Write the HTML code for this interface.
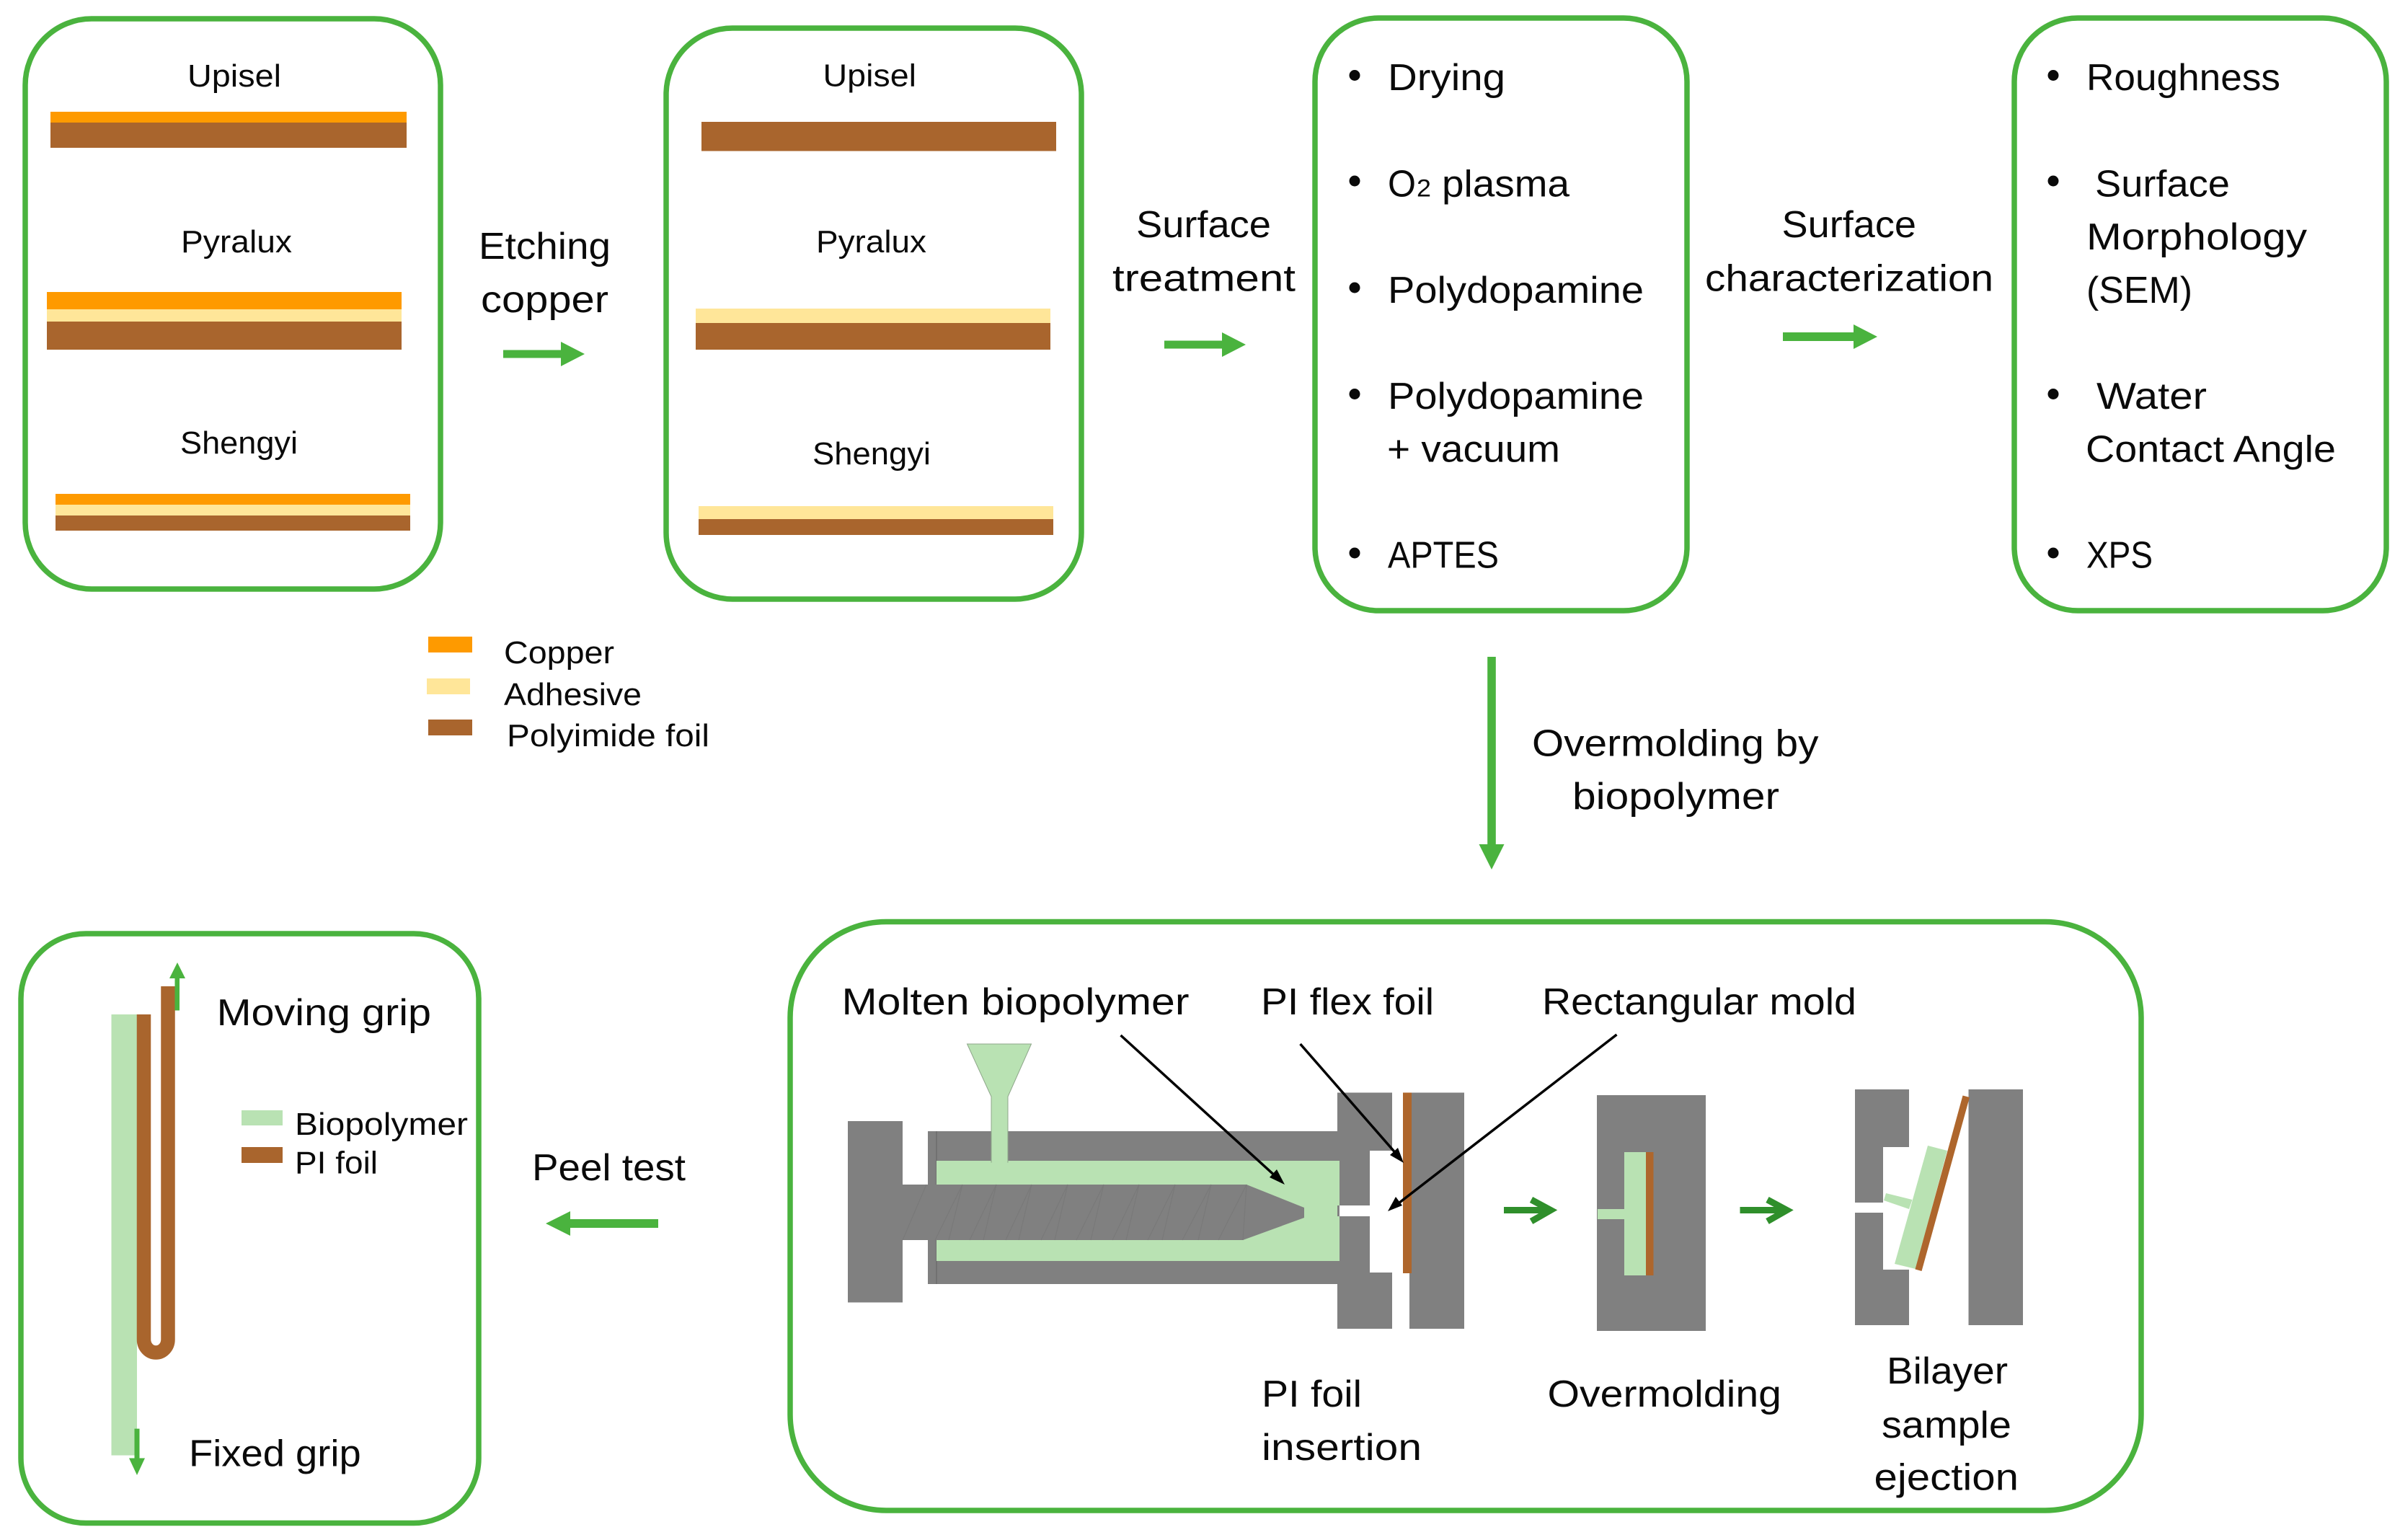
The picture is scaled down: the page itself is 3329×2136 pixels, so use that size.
<!DOCTYPE html>
<html>
<head>
<meta charset="utf-8">
<style>
html,body{margin:0;padding:0;background:#fff}
svg{display:block}
text{font-family:"Liberation Sans",sans-serif;fill:#0a0a0a}
.m{font-size:52px}
.s{font-size:44px}
</style>
</head>
<body>
<svg width="3329" height="2136" viewBox="0 0 3329 2136" xmlns="http://www.w3.org/2000/svg">
<rect width="3329" height="2136" fill="#fff"/>

<!-- Boxes -->
<g fill="none" stroke="#4ab33e" stroke-width="7.5">
<rect x="35" y="26" width="576" height="791" rx="92" ry="92"/>
<rect x="924" y="39" width="576" height="792" rx="92" ry="92"/>
<rect x="1824" y="25" width="516" height="822" rx="88" ry="88"/>
<rect x="2794" y="25" width="516" height="822" rx="88" ry="88"/>
<rect x="1096" y="1278.500" width="1874" height="816.500" rx="133" ry="133"/>
<rect x="29" y="1295" width="635" height="817.500" rx="90" ry="90"/>
</g>

<!-- Box 1 layers -->
<rect x="70" y="155" width="494" height="15" fill="#fe9a00"/>
<rect x="70" y="170" width="494" height="35" fill="#a9652d"/>
<rect x="65" y="405" width="492" height="24" fill="#fe9a00"/>
<rect x="65" y="429" width="492" height="17" fill="#ffe699"/>
<rect x="65" y="446" width="492" height="39" fill="#a9652d"/>
<rect x="77" y="685" width="492" height="15" fill="#fe9a00"/>
<rect x="77" y="700" width="492" height="15" fill="#ffe699"/>
<rect x="77" y="715" width="492" height="21" fill="#a9652d"/>
<text class="s" x="260" y="120" textLength="130" lengthAdjust="spacingAndGlyphs">Upisel</text>
<text class="s" x="251" y="350" textLength="154" lengthAdjust="spacingAndGlyphs">Pyralux</text>
<text class="s" x="250" y="629" textLength="163" lengthAdjust="spacingAndGlyphs">Shengyi</text>

<!-- Etching -->
<text class="m" x="664" y="359" textLength="183" lengthAdjust="spacingAndGlyphs">Etching</text>
<text class="m" x="667" y="433" textLength="177" lengthAdjust="spacingAndGlyphs">copper</text>
<polygon points="698,485.500 778,485.500 778,474 811,491 778,508 778,496.500 698,496.500" fill="#4ab33e"/>

<!-- Legend -->
<rect x="594" y="883" width="61" height="22" fill="#fe9a00"/>
<rect x="592" y="941" width="60" height="22" fill="#ffe699"/>
<rect x="594" y="998" width="61" height="22" fill="#a9652d"/>
<text class="s" x="699" y="920" textLength="153" lengthAdjust="spacingAndGlyphs">Copper</text>
<text class="s" x="699" y="978" textLength="191" lengthAdjust="spacingAndGlyphs">Adhesive</text>
<text class="s" x="703" y="1035" textLength="281" lengthAdjust="spacingAndGlyphs">Polyimide foil</text>

<!-- Box 2 layers -->
<rect x="973" y="169" width="492" height="40.500" fill="#a9652d"/>
<rect x="965" y="428" width="492" height="20" fill="#ffe699"/>
<rect x="965" y="448" width="492" height="37" fill="#a9652d"/>
<rect x="969" y="702" width="492" height="18" fill="#ffe699"/>
<rect x="969" y="720" width="492" height="22" fill="#a9652d"/>
<text class="s" x="1141.500" y="119.500" textLength="129.500" lengthAdjust="spacingAndGlyphs">Upisel</text>
<text class="s" x="1132" y="350" textLength="153" lengthAdjust="spacingAndGlyphs">Pyralux</text>
<text class="s" x="1127" y="644" textLength="164" lengthAdjust="spacingAndGlyphs">Shengyi</text>

<!-- Surface treatment -->
<text class="m" x="1576" y="329" textLength="187" lengthAdjust="spacingAndGlyphs">Surface</text>
<text class="m" x="1543" y="403.500" textLength="254" lengthAdjust="spacingAndGlyphs">treatment</text>
<polygon points="1615,472.500 1695,472.500 1695,461 1728,478 1695,495 1695,483.500 1615,483.500" fill="#4ab33e"/>

<!-- Box 3 list -->
<g fill="#0a0a0a">
<circle cx="1879" cy="104.500" r="7.500"/><circle cx="1879" cy="251" r="7.500"/><circle cx="1879" cy="399" r="7.500"/><circle cx="1879" cy="546.500" r="7.500"/><circle cx="1879" cy="767" r="7.500"/>
<circle cx="2848" cy="104.500" r="7.500"/><circle cx="2848" cy="251" r="7.500"/><circle cx="2848" cy="546.500" r="7.500"/><circle cx="2848" cy="767" r="7.500"/>
</g>
<text class="m" x="1925" y="125" textLength="163" lengthAdjust="spacingAndGlyphs">Drying</text>
<text class="m" x="1925" y="272.600" textLength="39" lengthAdjust="spacingAndGlyphs">O</text>
<text x="1965" y="272.600" font-size="34" textLength="20" lengthAdjust="spacingAndGlyphs">2</text>
<text class="m" x="2000" y="272.600" textLength="177" lengthAdjust="spacingAndGlyphs">plasma</text>
<text class="m" x="1925" y="420" textLength="355" lengthAdjust="spacingAndGlyphs">Polydopamine</text>
<text class="m" x="1925" y="567" textLength="355" lengthAdjust="spacingAndGlyphs">Polydopamine</text>
<text class="m" x="1924" y="640.600" textLength="240" lengthAdjust="spacingAndGlyphs">+ vacuum</text>
<text class="m" x="1925" y="787.500" textLength="154" lengthAdjust="spacingAndGlyphs">APTES</text>

<!-- Surface characterization -->
<text class="m" x="2471.500" y="329" textLength="186.500" lengthAdjust="spacingAndGlyphs">Surface</text>
<text class="m" x="2365" y="403.500" textLength="400" lengthAdjust="spacingAndGlyphs">characterization</text>
<polygon points="2473,461 2571,461 2571,450 2604,467 2571,484 2571,473 2473,473" fill="#4ab33e"/>

<!-- Box 4 list -->
<text class="m" x="2894" y="125" textLength="269" lengthAdjust="spacingAndGlyphs">Roughness</text>
<text class="m" x="2906" y="272.600" textLength="187" lengthAdjust="spacingAndGlyphs">Surface</text>
<text class="m" x="2894" y="346" textLength="306" lengthAdjust="spacingAndGlyphs">Morphology</text>
<text class="m" x="2894" y="420" textLength="147" lengthAdjust="spacingAndGlyphs">(SEM)</text>
<text class="m" x="2908" y="567" textLength="153" lengthAdjust="spacingAndGlyphs">Water</text>
<text class="m" x="2893" y="640.600" textLength="347" lengthAdjust="spacingAndGlyphs">Contact Angle</text>
<text class="m" x="2894" y="787.500" textLength="92" lengthAdjust="spacingAndGlyphs">XPS</text>

<!-- Overmolding arrow -->
<polygon points="2063.200,911 2074.800,911 2074.800,1171 2086.500,1171 2069,1206 2051.500,1171 2063.200,1171" fill="#4ab33e"/>
<text class="m" x="2125" y="1048.600" textLength="397.500" lengthAdjust="spacingAndGlyphs">Overmolding by</text>
<text class="m" x="2181" y="1122" textLength="287" lengthAdjust="spacingAndGlyphs">biopolymer</text>

<!-- Peel test -->
<text class="m" x="738" y="1637" textLength="213" lengthAdjust="spacingAndGlyphs">Peel test</text>
<polygon points="913,1691 791,1691 791,1680 757,1697 791,1714 791,1703 913,1703" fill="#4ab33e"/>

<!-- Box 5 labels -->
<text class="m" x="1167.500" y="1407" textLength="482" lengthAdjust="spacingAndGlyphs">Molten biopolymer</text>
<text class="m" x="1749" y="1407" textLength="240" lengthAdjust="spacingAndGlyphs">PI flex foil</text>
<text class="m" x="2139" y="1407" textLength="436" lengthAdjust="spacingAndGlyphs">Rectangular mold</text>
<text class="m" x="1750" y="1951" textLength="139" lengthAdjust="spacingAndGlyphs">PI foil</text>
<text class="m" x="1750" y="2025" textLength="222" lengthAdjust="spacingAndGlyphs">insertion</text>
<text class="m" x="2146.500" y="1951" textLength="324.500" lengthAdjust="spacingAndGlyphs">Overmolding</text>
<text class="m" x="2617" y="1919" textLength="168" lengthAdjust="spacingAndGlyphs">Bilayer</text>
<text class="m" x="2610" y="1994" textLength="180" lengthAdjust="spacingAndGlyphs">sample</text>
<text class="m" x="2599.500" y="2066.600" textLength="200.500" lengthAdjust="spacingAndGlyphs">ejection</text>

<!-- Injection machine -->
<rect x="1287" y="1569" width="571" height="212" fill="#808080"/>
<line x1="1299" y1="1569" x2="1299" y2="1781" stroke="#6c6c6c" stroke-width="1.500"/>
<rect x="1299" y="1610" width="559" height="139" fill="#b9e2b3"/>
<polygon points="1341.500,1448 1430.500,1448 1398,1521 1398,1612 1375,1612 1375,1521" fill="#b9e2b3" stroke="#8fa78b" stroke-width="1"/>
<rect x="1375.700" y="1600" width="21.600" height="14" fill="#b9e2b3"/>
<rect x="1176" y="1555" width="76" height="251.500" fill="#808080"/>
<polygon points="1252,1643 1729,1643 1809,1675 1809,1689 1724,1720 1252,1720" fill="#808080"/>
<g stroke="#797979" stroke-width="1.200" fill="none">
<path d="M1285 1643L1252 1720M1335 1643L1297 1720"/>
<path d="M1382 1643L1345 1720M1335 1643L1316 1720"/>
<path d="M1431 1643L1395 1720M1382 1643L1364 1720"/>
<path d="M1481 1643L1444 1720M1431 1643L1413 1720"/>
<path d="M1531 1643L1493 1720M1481 1643L1463 1720"/>
<path d="M1580 1643L1543 1720M1531 1643L1513 1720"/>
<path d="M1630 1643L1592 1720M1580 1643L1562 1720"/>
<path d="M1680 1643L1640 1720M1630 1643L1612 1720"/>
<path d="M1729 1643L1690 1720M1680 1643L1662 1720"/>
<path d="M1729 1643L1724 1720"/>
</g>

<!-- Mold 1 -->
<path d="M1855 1515.500H1931V1596H1900V1672H1858V1687H1900V1765H1931V1843H1855Z" fill="#808080"/>
<rect x="1855" y="1610" width="3" height="62" fill="#b9e2b3"/>
<rect x="1855" y="1687" width="3" height="62" fill="#b9e2b3"/>
<rect x="1955" y="1515.500" width="76" height="327.500" fill="#808080"/>
<rect x="1946" y="1515.500" width="12" height="250.500" fill="#ae662c"/>

<!-- Process arrows -->
<g fill="none" stroke="#2f8f2b" stroke-width="9">
<path d="M2086 1678.500H2150"/>
<path d="M2124 1664L2151 1678.500L2124 1694"/>
<path d="M2413.500 1678.500H2477.500"/>
<path d="M2451.500 1664L2478.500 1678.500L2451.500 1694"/>
</g>

<!-- Mold 2 -->
<rect x="2215" y="1519" width="151" height="327" fill="#808080"/>
<rect x="2216" y="1677" width="37" height="14" fill="#b9e2b3"/>
<rect x="2253" y="1598" width="30" height="171" fill="#b9e2b3"/>
<rect x="2283" y="1598" width="10.500" height="171" fill="#ae662c"/>

<!-- Mold 3 -->
<path d="M2573 1511H2648V1591H2612V1668H2573V1682H2612V1761H2648V1838H2573Z" fill="#808080"/>
<rect x="2730.500" y="1511" width="75.500" height="327" fill="#808080"/>
<polygon points="2674,1589 2701,1596 2657,1760 2628,1753" fill="#b9e2b3"/>
<polygon points="2616,1655 2652.500,1664 2648,1677 2613,1665" fill="#b9e2b3"/>
<polygon points="2722.500,1519.500 2732,1522 2665.500,1763 2656.500,1760.500" fill="#ae662c"/>

<!-- Black arrows -->
<g stroke="#000" stroke-width="3.500" fill="none">
<line x1="1554.500" y1="1436" x2="1772" y2="1634"/>
<line x1="1803.600" y1="1448" x2="1939" y2="1603"/>
<line x1="2242.500" y1="1435" x2="1936" y2="1672"/>
</g>
<polygon points="1782,1643 1761,1633 1771,1622" fill="#000"/>
<polygon points="1947,1613 1928,1602 1939,1592" fill="#000"/>
<polygon points="1925,1680 1936,1660 1945,1672" fill="#000"/>

<!-- Peel test box content -->
<rect x="154.500" y="1407" width="35.500" height="611.600" fill="#b9e2b3"/>
<path d="M199.500 1407V1858A16.750 18 0 0 0 233 1858V1368" fill="none" stroke="#a9652d" stroke-width="19.500"/>
<polygon points="242.500,1401.500 249,1401.500 249,1357 257,1357 246,1335 235,1357 242.500,1357" fill="#4ab33e"/>
<polygon points="186.500,1981.600 193.500,1981.600 193.500,2022.500 201,2022.500 190,2046 179,2022.500 186.500,2022.500" fill="#4ab33e"/>
<text class="m" x="300.600" y="1422" textLength="297.400" lengthAdjust="spacingAndGlyphs">Moving grip</text>
<text class="m" x="262" y="2033.500" textLength="238.700" lengthAdjust="spacingAndGlyphs">Fixed grip</text>
<rect x="335" y="1540" width="57" height="21" fill="#b9e2b3"/>
<rect x="335" y="1591" width="57" height="22" fill="#a9652d"/>
<text class="s" x="409" y="1574" textLength="240" lengthAdjust="spacingAndGlyphs">Biopolymer</text>
<text class="s" x="409" y="1627.500" textLength="115" lengthAdjust="spacingAndGlyphs">PI foil</text>
</svg>
</body>
</html>
